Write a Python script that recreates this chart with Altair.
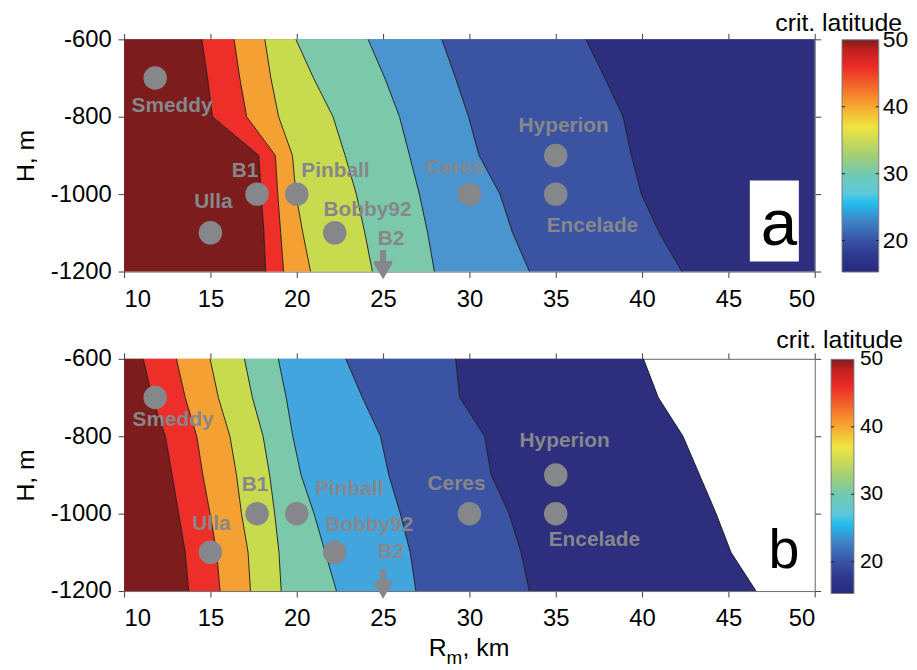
import altair as alt
import pandas as pd

FONT = "Liberation Sans"

# ---------------- data ----------------
H_levels = [-600, -700, -800, -900, -1000, -1100, -1200]
R_MIN, R_MAX = 10, 50

# contour boundaries (R, km) at each H level, left to right -- panel a
bounds_a = [
    [14.5, 14.83, 15.12, 17.8, 17.94, 18.1, 18.2],
    [16.37, 16.7, 17.1, 18.76, 18.9, 19.07, 19.24],
    [18.15, 18.5, 18.95, 19.75, 19.95, 20.35, 20.8],
    [19.95, 20.97, 22.1, 22.8, 23.45, 23.94, 24.38],
    [24.13, 25.1, 25.95, 26.53, 27.1, 27.58, 27.97],
    [28.4, 29.2, 29.95, 30.56, 31.77, 32.5, 33.48],
    [36.75, 37.85, 38.9, 39.38, 39.96, 41.0, 42.3],
]
# panel b
bounds_b = [
    [11.11, 11.63, 12.39, 12.78, 13.16, 13.54, 13.74],
    [13.03, 13.54, 14.21, 14.56, 14.98, 15.36, 15.56],
    [14.98, 15.46, 16.13, 16.51, 16.8, 17.18, 17.32],
    [16.97, 17.43, 18.05, 18.43, 18.72, 18.97, 19.1],
    [18.93, 19.39, 19.77, 20.25, 21.0, 21.65, 22.3],
    [22.84, 23.8, 24.85, 25.33, 26.0, 26.57, 26.9],
    [29.2, 29.44, 30.88, 31.26, 32.3, 32.99, 33.47],
    [40.08, 40.94, 42.37, 43.33, 44.29, 45.15, 46.6],
]

band_colors_a = ["#7D1C1C", "#EE2E28", "#F5A033", "#C8DA4E", "#7BC9AA", "#4A94D0", "#3A53A3", "#2D2E7E"]
band_colors_b = ["#7D1C1C", "#EE2E28", "#F5A033", "#C8DA4E", "#7BC9AA", "#42A5DE", "#3A53A3", "#2D2E7E"]

# colorbar (jet-like) stops
CB_MIN, CB_MAX = 15.3, 50
cbar_values = [15.3, 18, 20.5, 23, 25.6, 27, 30, 33, 37, 40, 43, 46, 48.5, 50]
cbar_colors = ["#28287F", "#2F3A8F", "#3A5AA8", "#3D86C8", "#22BDEF", "#5CC8DC", "#72C9B0",
               "#A8D070", "#EEE540", "#F8A830", "#F26A2A", "#EC2A26", "#C02020", "#7C1C1C"]
cbar_ticks = [20, 30, 40, 50]

sites = ["Smeddy", "Ulla", "B1", "Pinball", "Bobby92", "B2", "Ceres", "Hyperion", "Encelade"]
site_R = [11.8, 15.0, 17.7, 20.0, 22.2, 25.0, 30.0, 35.0, 35.0]
site_H = [-700, -1100, -1000, -1000, -1100, -1200, -1000, -900, -1000]

x_ticks = [10, 15, 20, 25, 30, 35, 40, 45, 50]
y_ticks = [-1200, -1000, -800, -600]

# ---------------- style ----------------
W, HGT = 696, 234
GRAY = "#86878B"
AX = "#707070"
label_off_a = {"Smeddy": (17, 28), "Ulla": (3, -31), "B1": (-12, -23), "Pinball": (39, -23),
               "Bobby92": (33, -23), "B2": (8, -33), "Ceres": (-15, -26), "Hyperion": (8, -30),
               "Encelade": (37, 32)}
label_off_b = {"Smeddy": (18, 23), "Ulla": (1, -29), "B1": (-2, -29), "Pinball": (53, -25),
               "Bobby92": (35, -28), "B2": (8, -39), "Ceres": (-13, -30), "Hyperion": (9, -34),
               "Encelade": (39, 27)}
ARROW = ("M-0.22,-1.55L0.22,-1.55L0.22,-0.75L0.65,-0.75L0.65,-0.55L0,0.55"
         "L-0.65,-0.55L-0.65,-0.75L-0.22,-0.75Z")

xs = alt.Scale(domain=[R_MIN, R_MAX], nice=False, zero=False)
ys = alt.Scale(domain=[-1200, -600], nice=False, zero=False)

gradient = alt.Gradient(
    gradient="linear", x1=0, x2=0, y1=1, y2=0,
    stops=[alt.GradientStop(color=c, offset=(v - CB_MIN) / (CB_MAX - CB_MIN))
           for v, c in zip(cbar_values, cbar_colors)])


def axis_common(**kw):
    base = dict(grid=False, domainColor=AX, tickColor="#404040", tickSize=6, tickWidth=1,
                labelFont=FONT, labelFontSize=24, labelColor="black", title=None)
    base.update(kw)
    return alt.Axis(**base)


def panel(tag, bounds, colors, closed_right, offsets, letter, cb, title_xy, letter_kw,
          box=None, xtitle=False):
    edges = [[R_MIN] * len(H_levels)] + bounds
    if closed_right:
        edges = edges + [[R_MAX] * len(H_levels)]
    band_rows, band_names = [], []
    for i in range(len(edges) - 1):
        name = f"{tag}{i}"
        band_names.append(name)
        for j, h in enumerate(H_levels):
            band_rows.append({"band": name, "H": h, "xl": edges[i][j], "xr": edges[i + 1][j]})
    line_rows = []
    for i, b in enumerate(bounds):
        for j, h in enumerate(H_levels):
            line_rows.append({"bid": i, "H": h, "x": b[j]})
    bands_df = pd.DataFrame(band_rows)
    lines_df = pd.DataFrame(line_rows)
    site_df = pd.DataFrame({"name": sites, "R": site_R, "H": site_H})

    bands = alt.Chart(bands_df).mark_area(orient="horizontal", opacity=1).encode(
        x=alt.X("xl:Q", scale=xs, axis=axis_common(orient="bottom", values=x_ticks, labelPadding=10)),
        x2="xr:Q",
        y=alt.Y("H:Q", scale=ys, axis=axis_common(orient="left", values=y_ticks, labelPadding=7,
                                                   labelExpr="'' + datum.value",
                                                   title="H, m", titleFont=FONT, titleFontSize=25,
                                                   titleFontWeight="normal", titleColor="black",
                                                   titlePadding=12)),
        fill=alt.Fill("band:N", scale=alt.Scale(domain=band_names, range=colors[:len(band_names)]),
                      legend=None),
    )
    lines = alt.Chart(lines_df).mark_line(color="#151515", strokeWidth=0.9).encode(
        x=alt.X("x:Q", scale=xs, axis=axis_common(orient="top", values=x_ticks, labels=False)),
        y=alt.Y("H:Q", scale=ys, axis=axis_common(orient="right", values=y_ticks, labels=False)),
        detail="bid:N",
        order="H:Q",
    )
    circ_df = site_df[site_df["name"] != "B2"]
    circles = alt.Chart(circ_df).mark_circle(size=560, color=GRAY, opacity=1).encode(
        x=alt.X("R:Q", scale=xs, axis=None), y=alt.Y("H:Q", scale=ys, axis=None))
    arrow = alt.Chart(site_df[site_df["name"] == "B2"]).mark_point(
        shape=ARROW, size=784, filled=True, color=GRAY, opacity=1).encode(
        x=alt.X("R:Q", scale=xs, axis=None), y=alt.Y("H:Q", scale=ys, axis=None))

    layers = [bands, lines, circles, arrow]
    for name, r, h in zip(sites, site_R, site_H):
        dx, dy = offsets[name]
        layers.append(
            alt.Chart(pd.DataFrame({"t": [name], "R": [r], "H": [h]})).mark_text(
                font=FONT, fontSize=21, fontWeight="bold", color=GRAY, dx=dx, dy=dy,
                align="center", baseline="middle").encode(
                x=alt.X("R:Q", scale=xs, axis=None), y=alt.Y("H:Q", scale=ys, axis=None), text="t:N"))

    if box is not None:
        layers.append(alt.Chart(pd.DataFrame({"k": [0]})).mark_rect(color="white").encode(
            x=alt.value(box[0]), x2=alt.value(box[1]), y=alt.value(box[2]), y2=alt.value(box[3])))
    layers.append(alt.Chart(pd.DataFrame({"t": [letter]})).mark_text(
        font=FONT, fontSize=letter_kw[2], color="black", align="center", baseline="alphabetic").encode(
        x=alt.value(letter_kw[0]), y=alt.value(letter_kw[1]), text="t:N"))

    # colorbar
    cx0, cw, ctop, cbot, cfs, coff = cb
    cby = alt.Scale(domain=[CB_MIN, CB_MAX], range=[ctop, cbot], nice=False, zero=False)
    layers.append(alt.Chart(pd.DataFrame({"v0": [CB_MIN], "v1": [CB_MAX]})).mark_rect(
        color=gradient, stroke="#7a7a7a", strokeWidth=1).encode(
        x=alt.value(cx0), x2=alt.value(cx0 + cw),
        y=alt.Y("v0:Q", scale=cby, axis=None), y2="v1:Q"))
    tick_df = pd.DataFrame({"v": cbar_ticks[:-1]})
    for xa, xb in [(cx0, cx0 + 3), (cx0 + cw - 3, cx0 + cw)]:
        layers.append(alt.Chart(tick_df).mark_rule(color="#202020", strokeWidth=1).encode(
            x=alt.value(xa), x2=alt.value(xb), y=alt.Y("v:Q", scale=cby, axis=None)))
    layers.append(alt.Chart(pd.DataFrame({"v": cbar_ticks})).mark_text(
        font=FONT, fontSize=cfs, color="black", align="left", baseline="middle",
        dx=coff).encode(
        x=alt.value(cx0 + cw), y=alt.Y("v:Q", scale=cby, axis=None), text="v:Q"))
    layers.append(alt.Chart(pd.DataFrame({"t": ["crit. latitude"]})).mark_text(
        font=FONT, fontSize=25, color="black", align="right", baseline="alphabetic").encode(
        x=alt.value(title_xy[0]), y=alt.value(title_xy[1]), text="t:N"))

    if xtitle:
        for txt, px, py, fs in [("R", 307, 299, 25), ("m", 325, 308, 19), (", km", 341, 299, 25)]:
            layers.append(alt.Chart(pd.DataFrame({"t": [txt]})).mark_text(
                font=FONT, fontSize=fs, color="black", align="left", baseline="alphabetic").encode(
                x=alt.value(px), y=alt.value(py), text="t:N"))

    return alt.layer(*layers).resolve_axis(x="independent", y="independent").resolve_scale(
        y="independent").properties(width=W, height=HGT)


pa = panel("a", bounds_a, band_colors_a, True, label_off_a, "a",
           (723.5, 37, 234.5, 0.5, 23, 4),
           (784, -8), (660, 207, 66), box=(630.6, 680, 142.3, 224))
pb = panel("b", bounds_b, band_colors_b, False, label_off_b, "b",
           (712.5, 23, 236.5, 0.5, 21, 6),
           (785, -11), (665, 211, 56), xtitle=True)

chart = alt.vconcat(pa, pb, spacing=15).resolve_scale(fill="independent").properties(
    padding={"left": 5, "top": 0, "right": 0, "bottom": 0}
).configure_view(stroke=AX).configure(font=FONT)

chart.save("out.html", embed_options={"renderer": "svg", "actions": False})
